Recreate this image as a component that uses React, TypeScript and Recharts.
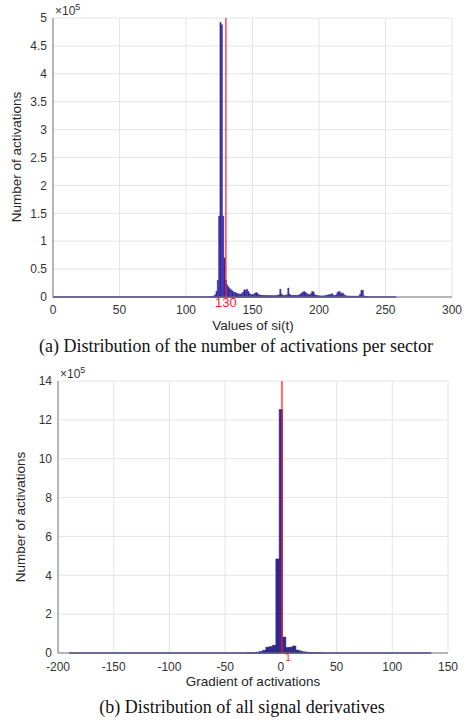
import React from "react";
import {
  BarChart,
  Bar,
  XAxis,
  YAxis,
  CartesianGrid,
  ReferenceLine,
} from "recharts";

// (a) histogram of si(t), 1-unit bins starting at 118, counts in units of 1e5
const siStart = 118;
const siCounts = [
  0.005, 0.008, 0.012, 0.02, 0.04, 0.1, 0.3, 1.45, 4.92, 4.88, 1.45, 0.7, 0.3,
  0.22, 0.18, 0.15, 0.13, 0.11, 0.09, 0.08, 0.07, 0.06, 0.055, 0.05, 0.06, 0.09,
  0.13, 0.12, 0.14, 0.1, 0.06, 0.045, 0.04, 0.05, 0.07, 0.08, 0.06, 0.04, 0.035,
  0.03, 0.03, 0.028, 0.027, 0.026, 0.025, 0.025, 0.026, 0.025, 0.024, 0.025,
  0.026, 0.03, 0.04, 0.14, 0.05, 0.03, 0.028, 0.03, 0.04, 0.16, 0.05, 0.03,
  0.028, 0.03, 0.03, 0.028, 0.03, 0.035, 0.05, 0.07, 0.09, 0.1, 0.08, 0.06,
  0.05, 0.04, 0.06, 0.1, 0.09, 0.04, 0.03, 0.025, 0.022, 0.02, 0.02, 0.02,
  0.022, 0.025, 0.03, 0.04, 0.04, 0.05, 0.06, 0.03, 0.025, 0.04, 0.08, 0.1,
  0.09, 0.06, 0.07, 0.04, 0.025, 0.02, 0.018, 0.016, 0.015, 0.015, 0.014,
  0.014, 0.014, 0.015, 0.02, 0.05, 0.12, 0.12, 0.02, 0.012, 0.01,
];
const siRange = [0, 258];
const siTicksX = [0, 50, 100, 150, 200, 250, 300];
const siTicksY = [0, 0.5, 1, 1.5, 2, 2.5, 3, 3.5, 4, 4.5, 5];
const siMarker = 130;

// (b) histogram of gradients, 3-unit bins, counts in units of 1e5
const gradCenters = [
  -30, -27, -24, -21, -18, -15, -12, -9, -6, -3, 0, 3, 6, 9, 12, 15, 18, 21,
  24, 27, 30, 33, 36,
];
const gradCounts = [
  0.005, 0.01, 0.02, 0.04, 0.08, 0.14, 0.3, 0.33, 0.4, 4.84, 12.53, 0.82, 0.28,
  0.3, 0.36, 0.15, 0.1, 0.06, 0.04, 0.025, 0.015, 0.008, 0.004,
];
const gradRange = [-190, 135];
const gradTicksX = [-200, -150, -100, -50, 0, 50, 100, 150];
const gradTicksY = [0, 2, 4, 6, 8, 10, 12, 14];
const gradMarker = 1;

const siData = siCounts.map((c, i) => ({ x: siStart + i, count: c }));
const gradData = gradCenters.map((x, i) => ({ x, count: gradCounts[i] }));

const sans = "'Liberation Sans', Arial, sans-serif";
const serif = "'Liberation Serif', 'Times New Roman', serif";
const tickStyle = { fontSize: 12, fill: "#333", fontFamily: sans };
const boxColor = "#7a7a7a";

function Histogram(props: {
  data: { x: number; count: number }[];
  domainX: number[];
  ticksX: number[];
  ticksY: number[];
  range: number[];
  marker: number;
  markerLabel: string;
  markerFont: number;
  markerDx: number;
  barSize: number;
  fill: string;
  edge: string;
  height: number;
  xTickMargin: number;
  margin: { top: number; right: number; bottom: number; left: number };
}) {
  const top = props.ticksY[props.ticksY.length - 1];
  return (
    <BarChart
      width={472}
      height={props.height}
      data={props.data}
      margin={props.margin}
      barGap={0}
    >
      <CartesianGrid stroke="#e4e4e4" />
      <XAxis
        dataKey="x"
        type="number"
        domain={props.domainX}
        ticks={props.ticksX}
        interval={0}
        tick={tickStyle}
        tickLine={false}
        tickSize={0}
        tickMargin={props.xTickMargin}
        height={30}
        axisLine={{ stroke: boxColor }}
        allowDataOverflow
      />
      <XAxis
        xAxisId="top"
        orientation="top"
        type="number"
        domain={props.domainX}
        ticks={props.ticksX}
        tickFormatter={() => ""}
        tickSize={4}
        mirror
        height={0}
        axisLine={{ stroke: boxColor }}
        tickLine={{ stroke: boxColor }}
      />
      <YAxis
        type="number"
        domain={[0, top]}
        ticks={props.ticksY}
        interval={0}
        tick={tickStyle}
        tickLine={false}
        tickSize={0}
        tickMargin={6}
        width={40}
        axisLine={{ stroke: boxColor }}
      />
      <YAxis
        yAxisId="right"
        orientation="right"
        type="number"
        domain={[0, top]}
        ticks={props.ticksY}
        tickFormatter={() => ""}
        tickSize={4}
        mirror
        width={0}
        axisLine={{ stroke: boxColor }}
        tickLine={{ stroke: boxColor }}
      />
      <ReferenceLine
        segment={[
          { x: props.range[0], y: 0 },
          { x: props.range[1], y: 0 },
        ]}
        stroke={props.fill}
        strokeWidth={1.5}
      />
      <Bar
        dataKey="count"
        fill={props.fill}
        stroke={props.edge}
        strokeWidth={0.5}
        barSize={props.barSize}
        isAnimationActive={false}
      />
      <ReferenceLine
        x={props.marker}
        stroke="#ff1a1a"
        strokeWidth={1.2}
        label={{
          value: props.markerLabel,
          position: "bottom",
          offset: 1,
          dx: props.markerDx,
          fill: "#ff1a1a",
          fontSize: props.markerFont,
          fontFamily: sans,
        }}
      />
    </BarChart>
  );
}

const abs = (x: number, y: number): React.CSSProperties => ({
  position: "absolute",
  left: x,
  top: y,
  transform: "translate(-50%, -50%)",
  whiteSpace: "nowrap",
});

export default function App() {
  return (
    <div
      style={{
        position: "absolute",
        left: 0,
        top: 0,
        width: 472,
        height: 720,
        background: "#fff",
        overflow: "hidden",
      }}
    >
      <div style={{ position: "absolute", left: 0, top: 0 }}>
        <Histogram
          data={siData}
          domainX={[0, 300]}
          ticksX={siTicksX}
          ticksY={siTicksY}
          range={siRange}
          marker={siMarker}
          markerLabel="130"
          markerFont={13}
          markerDx={0}
          barSize={1.33}
          fill="#3428a0"
          edge="#3428a0"
          height={340}
          xTickMargin={8}
          margin={{ top: 18, right: 20, bottom: 13, left: 13 }}
        />
      </div>
      <div style={{ position: "absolute", left: 0, top: 360 }}>
        <Histogram
          data={gradData}
          domainX={[-200, 150]}
          ticksX={gradTicksX}
          ticksY={gradTicksY}
          range={gradRange}
          marker={gradMarker}
          markerLabel="1"
          markerFont={10}
          markerDx={6}
          barSize={3.34}
          fill="#302a98"
          edge="#1c1966"
          height={330}
          xTickMargin={9}
          margin={{ top: 21, right: 24, bottom: 7, left: 18 }}
        />
      </div>

      {/* exponent labels */}
      <div
        style={{
          position: "absolute",
          left: 55,
          top: 2,
          fontFamily: sans,
          fontSize: 12,
          color: "#333",
        }}
      >
        ×10<sup style={{ fontSize: 9 }}>5</sup>
      </div>
      <div
        style={{
          position: "absolute",
          left: 60,
          top: 365,
          fontFamily: sans,
          fontSize: 12,
          color: "#333",
        }}
      >
        ×10<sup style={{ fontSize: 9 }}>5</sup>
      </div>

      {/* axis titles */}
      <div
        style={{
          ...abs(16, 157),
          transform: "translate(-50%, -50%) rotate(-90deg)",
          fontFamily: sans,
          fontSize: 13.5,
          color: "#262626",
        }}
      >
        Number of activations
      </div>
      <div style={{ ...abs(253, 325), fontFamily: sans, fontSize: 13.5, color: "#262626" }}>
        Values of si(t)
      </div>
      <div
        style={{
          ...abs(20, 517),
          transform: "translate(-50%, -50%) rotate(-90deg)",
          fontFamily: sans,
          fontSize: 13.5,
          color: "#262626",
        }}
      >
        Number of activations
      </div>
      <div style={{ ...abs(253, 681), fontFamily: sans, fontSize: 13.5, color: "#262626" }}>
        Gradient of activations
      </div>

      {/* captions */}
      <div style={{ ...abs(236, 346), fontFamily: serif, fontSize: 18, color: "#111" }}>
        (a) Distribution of the number of activations per sector
      </div>
      <div style={{ ...abs(242, 707), fontFamily: serif, fontSize: 18, color: "#111" }}>
        (b) Distribution of all signal derivatives
      </div>
    </div>
  );
}
